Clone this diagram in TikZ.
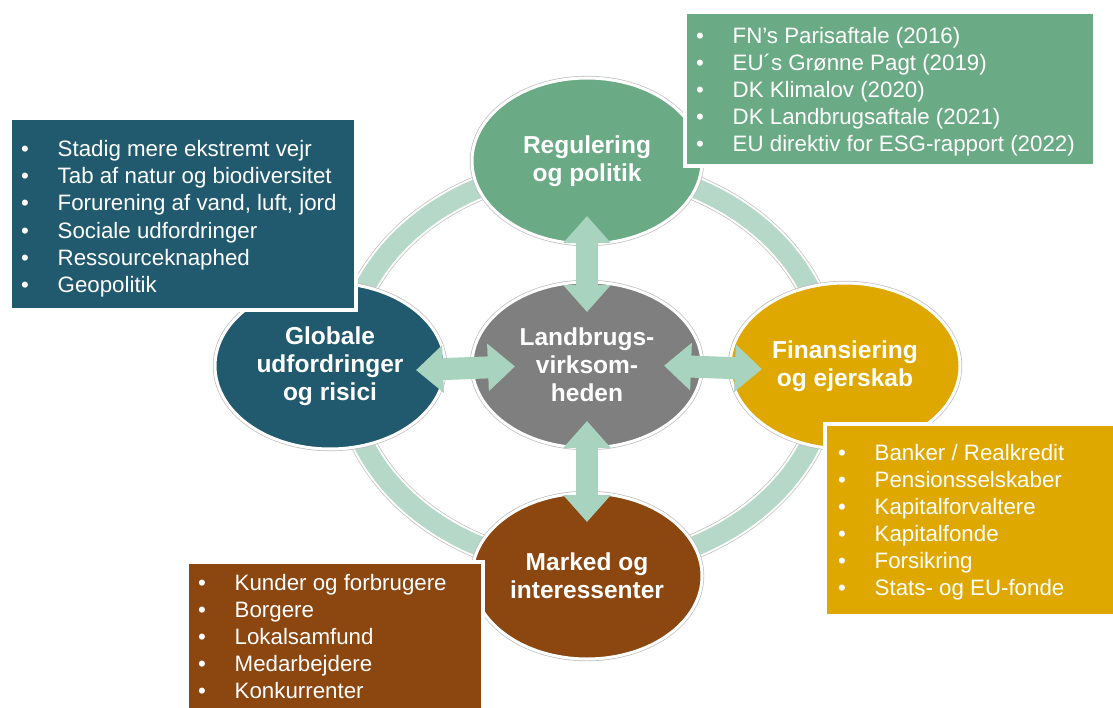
\documentclass[tikz,border=0pt]{standalone}
\usepackage{fontspec}
\setmainfont{Liberation Sans}[Ligatures=NoCommon]
\usetikzlibrary{arrows.meta,shapes.geometric}

\definecolor{polgreen}{HTML}{6AAA85}
\definecolor{riskteal}{HTML}{215A6E}
\definecolor{coregray}{HTML}{7F7F7F}
\definecolor{fingold}{HTML}{DFA800}
\definecolor{mktbrown}{HTML}{8C4610}
\definecolor{mint}{HTML}{A8D3BE}
\definecolor{ringmint}{HTML}{B5D8C8}
\definecolor{edgegray}{HTML}{BDBDBD}

\newcommand\listrow[1]{\makebox[36.5bp][l]{\textbullet}#1}

\tikzset{
  hub/.style={ellipse, fill=#1, draw=white, line width=3bp,
    preaction={draw=edgegray, line width=4.4bp},
    minimum width=230bp, minimum height=166bp, inner sep=0pt, outer sep=0pt,
    text=white, align=center,
    font=\bfseries\fontsize{24.5bp}{28bp}\selectfont},
  panel/.style={rectangle, fill=#1, draw=white, line width=3.5bp,
    preaction={draw=edgegray, line width=4.9bp},
    inner sep=0pt, outer sep=0pt, anchor=north west},
  bullets/.style={anchor=base west, inner sep=0pt, text=white,
    font=\fontsize{22.3bp}{27bp}\selectfont},
  biarrow/.style={draw=mint, line width=22bp,
    {Triangle[width=46bp,length=27bp]}-{Triangle[width=46bp,length=27bp]}},
}

\begin{document}
\begin{tikzpicture}[x=1bp, y=-1bp]
\useasboundingbox (0,0) rectangle (1113,708);
\clip (0,0) rectangle (1113,708);

% connecting ring behind the five hubs
\draw[edgegray, line width=25.4bp] (587,367) ellipse [x radius=242bp, y radius=200bp];
\draw[white, line width=24bp] (587,367) ellipse [x radius=242bp, y radius=200bp];
\draw[ringmint, line width=20bp] (587,367) ellipse [x radius=242bp, y radius=200bp];

% hubs
\node[hub=polgreen] (Tp) at (587,161) {Regulering\\og politik};
\node[hub=riskteal] (Lf) at (330,366) {Globale\\udfordringer\\og risici};
\node[hub=coregray] (Ct) at (587,365) {Landbrugs-\\virksom-\\heden};
\node[hub=fingold]  (Rt) at (845,366) {Finansiering\\og ejerskab};
\node[hub=mktbrown] (Bt) at (587,576) {Marked og\\interessenter};

% two-way arrows between the centre and the outer hubs
\draw[biarrow, shorten <=-28bp, shorten >=-30bp] (Tp.south) -- (Ct.north);
\draw[biarrow, shorten <=-27bp, shorten >=-29bp] (Ct.south) -- (Bt.north);
\draw[biarrow, shorten <=-29bp, shorten >=-43bp] ([yshift=-3bp]Lf.east) -- ([yshift=-3bp]Ct.west);
\draw[biarrow, shorten <=-38bp, shorten >=-32bp] ([yshift=-2bp]Ct.east) -- ([yshift=-2bp]Rt.west);

% panels with the bullet lists
\node[panel=polgreen, minimum width=410bp, minimum height=154bp] (pTp) at (685,12) {};
\node[panel=riskteal, minimum width=346bp, minimum height=192bp] (pLf) at (10,118) {};
\node[panel=fingold,  minimum width=300bp, minimum height=192bp] (pRt) at (825,424) {};
\node[panel=mktbrown, minimum width=296bp, minimum height=160bp] (pBt) at (187,562) {};

\node[bullets] (lTp) at (696,44) {\begin{tabular}[t]{@{}l@{}}
\listrow{FN’s Parisaftale (2016)}\\
\listrow{EU´s Grønne Pagt (2019)}\\
\listrow{DK Klimalov (2020)}\\
\listrow{DK Landbrugsaftale (2021)}\\
\listrow{EU direktiv for ESG-rapport (2022)}
\end{tabular}};

\node[bullets] (lLf) at (21,157) {\begin{tabular}[t]{@{}l@{}}
\listrow{Stadig mere ekstremt vejr}\\
\listrow{Tab af natur og biodiversitet}\\
\listrow{Forurening af vand, luft, jord}\\
\listrow{Sociale udfordringer}\\
\listrow{Ressourceknaphed}\\
\listrow{Geopolitik}
\end{tabular}};

\node[bullets] (lRt) at (838,460) {\begin{tabular}[t]{@{}l@{}}
\listrow{Banker / Realkredit}\\
\listrow{Pensionsselskaber}\\
\listrow{Kapitalforvaltere}\\
\listrow{Kapitalfonde}\\
\listrow{Forsikring}\\
\listrow{Stats- og EU-fonde}
\end{tabular}};

\node[bullets] (lBt) at (198,590) {\begin{tabular}[t]{@{}l@{}}
\listrow{Kunder og forbrugere}\\
\listrow{Borgere}\\
\listrow{Lokalsamfund}\\
\listrow{Medarbejdere}\\
\listrow{Konkurrenter}
\end{tabular}};
\end{tikzpicture}
\end{document}
